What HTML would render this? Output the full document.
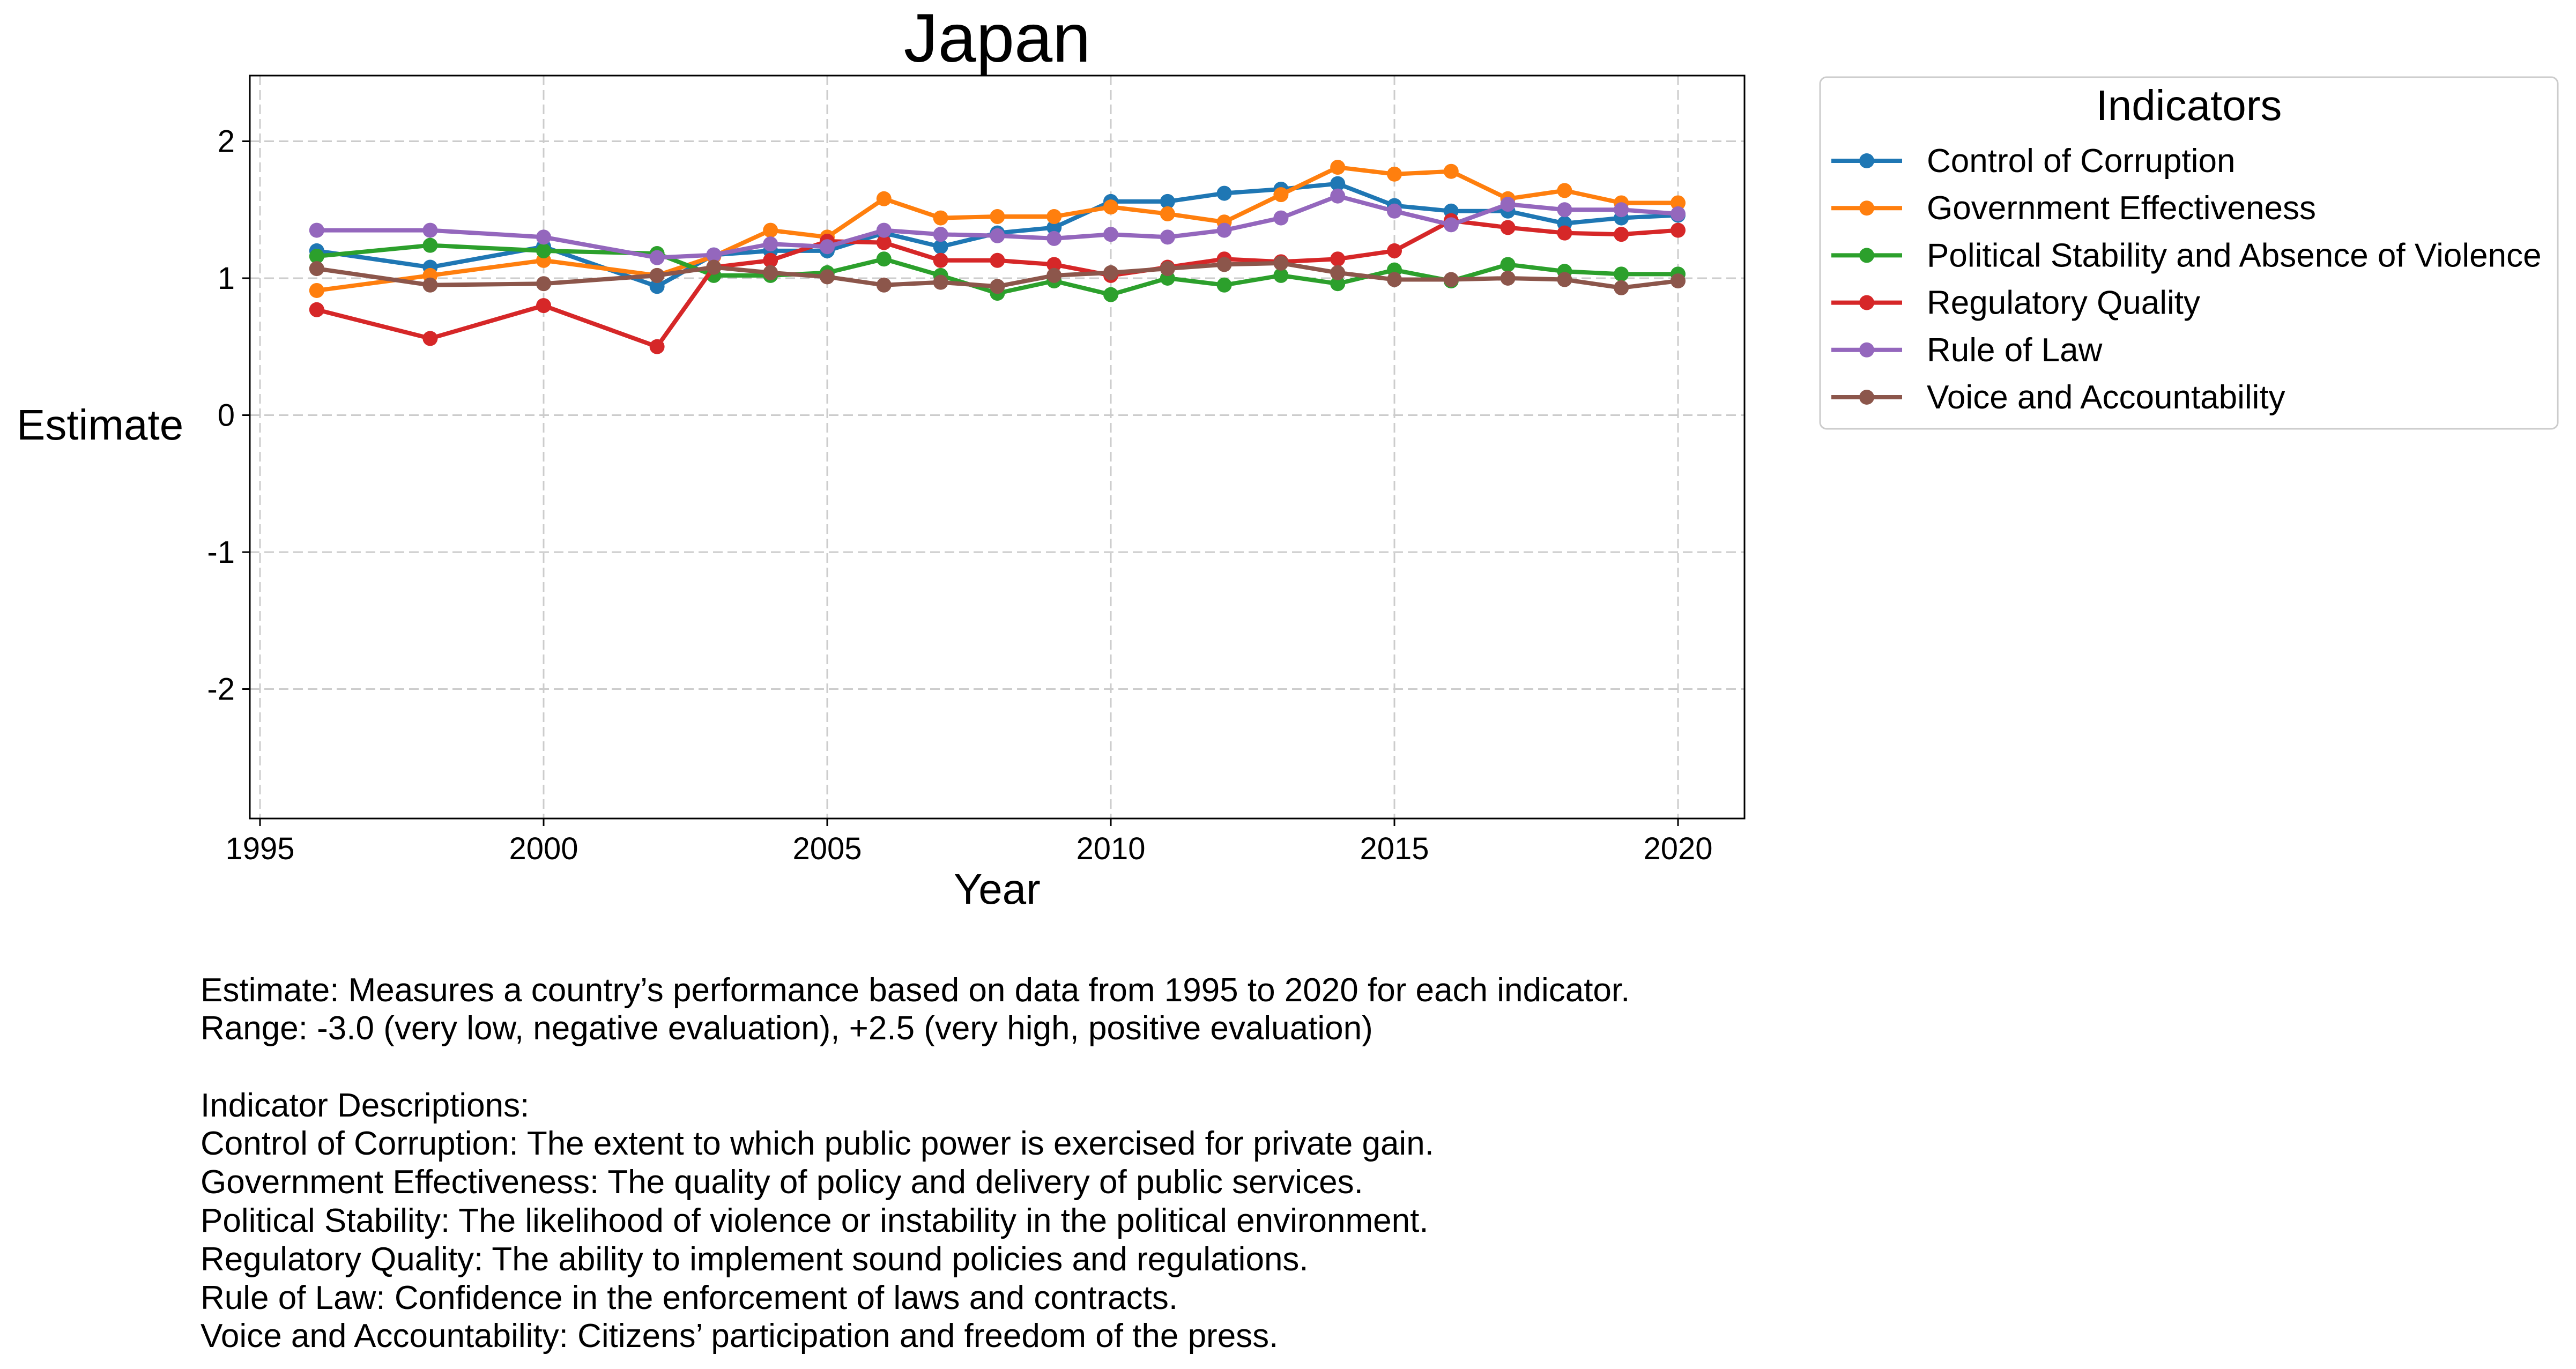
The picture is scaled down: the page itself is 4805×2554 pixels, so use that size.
<!DOCTYPE html>
<html><head><meta charset="utf-8"><style>
html,body{margin:0;padding:0;background:#fff;}
svg{display:block;font-family:"Liberation Sans",Arial,sans-serif;}
</style></head><body>
<svg id="chart" width="4805" height="2554" viewBox="0 0 4805 2554" xmlns="http://www.w3.org/2000/svg">
<rect width="4805" height="2554" fill="#fff"/>
<g id="grid"></g>
<g id="series"></g>
<rect x="466" y="141" width="2788" height="1386" fill="none" stroke="#000" stroke-width="3"/>
<g id="ticks"></g>
<text x="1860" y="115" font-size="128" text-anchor="middle">Japan</text>
<text x="1860" y="1686" font-size="80" text-anchor="middle">Year</text>
<text x="31" y="820" font-size="80">Estimate</text>
<g>
<rect x="3395" y="144" width="1376" height="656" rx="12" fill="#fff" stroke="#ccc" stroke-width="3"/>
<text x="4083" y="224" font-size="80" text-anchor="middle">Indicators</text>
<g id="legend-items"></g>
</g>
<g font-size="62" fill="#000">
<text x="374" y="1868">Estimate: Measures a country’s performance based on data from 1995 to 2020 for each indicator.</text>
<text x="374" y="1939">Range: -3.0 (very low, negative evaluation), +2.5 (very high, positive evaluation)</text>
<text x="374" y="2083">Indicator Descriptions:</text>
<text x="374" y="2154">Control of Corruption: The extent to which public power is exercised for private gain.</text>
<text x="374" y="2226">Government Effectiveness: The quality of policy and delivery of public services.</text>
<text x="374" y="2298">Political Stability: The likelihood of violence or instability in the political environment.</text>
<text x="374" y="2370">Regulatory Quality: The ability to implement sound policies and regulations.</text>
<text x="374" y="2442">Rule of Law: Confidence in the enforcement of laws and contracts.</text>
<text x="374" y="2513">Voice and Accountability: Citizens’ participation and freedom of the press.</text>
</g>
</svg>
<script>
const years = [1996,1998,2000,2002,2003,2004,2005,2006,2007,2008,2009,2010,2011,2012,2013,2014,2015,2016,2017,2018,2019,2020];
const seriesNames = ["Control of Corruption","Government Effectiveness","Political Stability and Absence of Violence","Regulatory Quality","Rule of Law","Voice and Accountability"];
const seriesColors = ["#1f77b4","#ff7f0e","#2ca02c","#d62728","#9467bd","#8c564b"];
const controlCorruption = [1.20,1.08,1.23,0.94,1.17,1.20,1.20,1.33,1.23,1.33,1.37,1.56,1.56,1.62,1.65,1.69,1.53,1.49,1.49,1.40,1.44,1.46];
const govEffectiveness = [0.91,1.02,1.13,1.02,1.16,1.35,1.30,1.58,1.44,1.45,1.45,1.52,1.47,1.41,1.61,1.81,1.76,1.78,1.58,1.64,1.55,1.55];
const politicalStability = [1.16,1.24,1.20,1.18,1.02,1.02,1.04,1.14,1.02,0.89,0.98,0.88,1.00,0.95,1.02,0.96,1.06,0.98,1.10,1.05,1.03,1.03];
const regulatoryQuality = [0.77,0.56,0.80,0.50,1.08,1.13,1.27,1.26,1.13,1.13,1.10,1.02,1.08,1.14,1.12,1.14,1.20,1.42,1.37,1.33,1.32,1.35];
const ruleOfLaw = [1.35,1.35,1.30,1.15,1.17,1.25,1.23,1.35,1.32,1.31,1.29,1.32,1.30,1.35,1.44,1.60,1.49,1.39,1.54,1.50,1.50,1.47];
const voiceAccountability = [1.07,0.95,0.96,1.02,1.08,1.04,1.01,0.95,0.97,0.94,1.02,1.04,1.07,1.10,1.11,1.04,0.99,0.99,1.00,0.99,0.93,0.98];
const xTicks = [1995,2000,2005,2010,2015,2020];
const yTicks = [-2,-1,0,1,2];
const allSeries = [controlCorruption,govEffectiveness,politicalStability,regulatoryQuality,ruleOfLaw,voiceAccountability];

const NS = "http://www.w3.org/2000/svg";
const L=466,R=3254,T=141,B=1527;
function xs(v){return 485 + (v-1995)*105.8;}
function ys(v){return 774.5 - v*255.5;}
function mk(tag,attrs,parent){const e=document.createElementNS(NS,tag);for(const k in attrs)e.setAttribute(k,attrs[k]);parent.appendChild(e);return e;}
const grid=document.getElementById('grid'),ticks=document.getElementById('ticks'),ser=document.getElementById('series'),leg=document.getElementById('legend-items');
xTicks.forEach(t=>{
  const g=mk('line',{x1:xs(t),x2:xs(t),y1:T,y2:B,stroke:'#ccc','stroke-width':3,'stroke-dasharray':'18 9'},grid);
  
  
  const tk=mk('line',{x1:xs(t),x2:xs(t),y1:B,y2:B+14,stroke:'#000','stroke-width':3},ticks);
  
  
  const tx=mk('text',{x:xs(t),y:B+76,'font-size':58,'text-anchor':'middle'},ticks);
  tx.textContent=t;
  
  
});
yTicks.forEach(t=>{
  const g=mk('line',{x1:L,x2:R,y1:ys(t),y2:ys(t),stroke:'#ccc','stroke-width':3,'stroke-dasharray':'18 9'},grid);
  
  
  const tk=mk('line',{x1:L-14,x2:L,y1:ys(t),y2:ys(t),stroke:'#000','stroke-width':3},ticks);
  
  
  const tx=mk('text',{x:L-28,y:ys(t)+20,'font-size':58,'text-anchor':'end'},ticks);
  tx.textContent=t;
  
  
});
allSeries.forEach((vals,i)=>{
  const g=mk('g',{},ser);
  
  
  const pts=vals.map((v,j)=>xs(years[j])+','+ys(v)).join(' ');
  const pl=mk('polyline',{points:pts,fill:'none',stroke:seriesColors[i],'stroke-width':8,'stroke-linejoin':'round'},g);
  
  
  vals.forEach((v,j)=>{
    const c=mk('circle',{cx:xs(years[j]),cy:ys(v),r:14,fill:seriesColors[i]},g);
    
    
  });
  const ly=300+i*88.2;
  const le=mk('g',{},leg);
  
  
  mk('line',{x1:3416,x2:3548,y1:ly,y2:ly,stroke:seriesColors[i],'stroke-width':8},le);
  mk('circle',{cx:3482,cy:ly,r:14,fill:seriesColors[i]},le);
  const t=mk('text',{x:3594,y:ly+21,'font-size':62},le);
  t.textContent=seriesNames[i];
});
</script>
</body></html>
